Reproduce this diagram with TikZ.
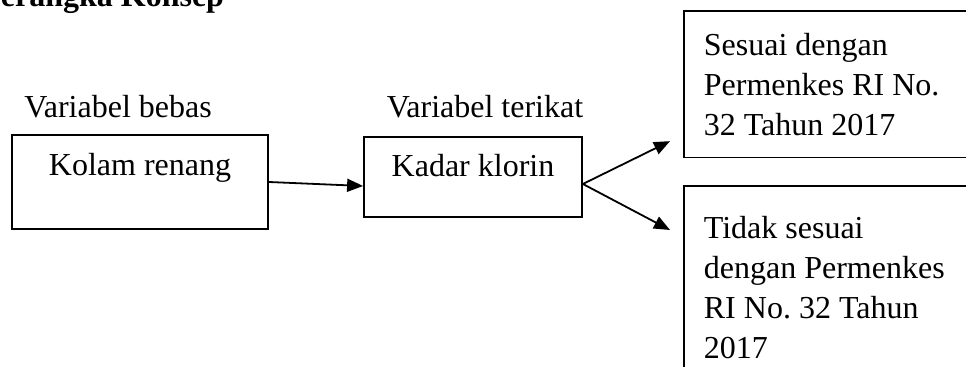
\documentclass[tikz,border=0pt]{standalone}
\usepackage{fontspec}
\setmainfont{Liberation Serif}
\usetikzlibrary{arrows.meta}
\frenchspacing

\begin{document}
\begin{tikzpicture}[x=0.5pt,y=-0.5pt,line width=0.9pt,
    >={Triangle[length=8pt,width=6.5pt]},
    font=\fontsize{16}{20}\selectfont]
      \useasboundingbox (0,0) rectangle (966,367);

      % Title (top cut off)
        \node[anchor=base west, inner sep=0pt, font=\fontsize{16}{20}\selectfont\bfseries] (judul) at (0,7) {erangka Konsep};

        % Variable labels
        \node[anchor=base] (bebas) at (118,118) {Variabel bebas};
        \node[anchor=base] (terikat) at (485,118) {Variabel terikat};

        % Boxes
        \node[draw, minimum width=128pt, minimum height=47pt, text height=11pt, text depth=17pt] (kolam) at (140,182) {Kolam renang};
        \node[draw, minimum width=109pt, minimum height=40pt, text height=11pt, text depth=11pt] (kadar) at (473,177) {Kadar klorin};

        % Results
        \node[draw, anchor=north west, align=flush left, text width=125pt, inner xsep=10pt, inner ysep=11pt, minimum height=73pt] (sesuai) at (683,10) {Sesuai dengan\\Permenkes RI No.\\32 Tahun 2017};
        \node[draw, anchor=north west, align=flush left, text width=125pt, inner xsep=10pt, inner ysep=15pt] (tidak) at (683,185) {Tidak sesuai\\dengan Permenkes\\RI No. 32 Tahun\\2017};

        \draw [->] (kolam.east) -- ([yshift=-4.5pt]kadar.west);
        \draw [->] ([yshift=-3.5pt]kadar.east) -- ([xshift=-6.5pt,yshift=-28.5pt]sesuai.west);
        \draw [->] ([yshift=-3.5pt]kadar.east) -- ([xshift=-6.5pt,yshift=-22.5pt]tidak.north west);

    \end{tikzpicture}
\end{document}
